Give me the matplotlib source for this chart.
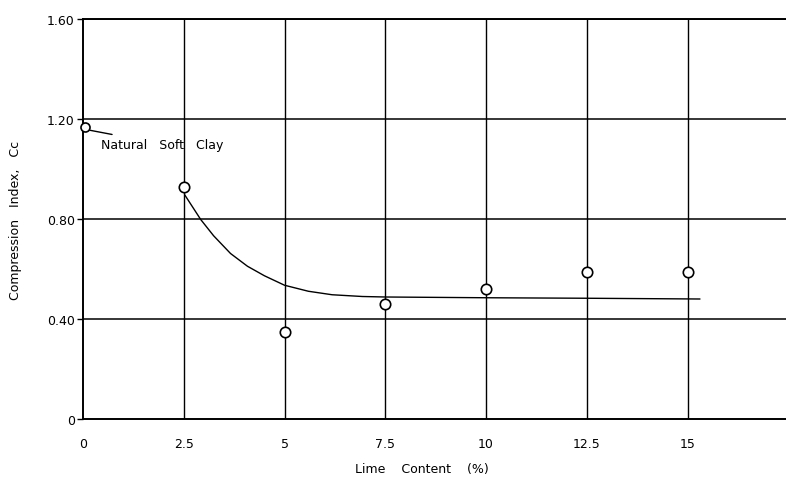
import matplotlib
matplotlib.use("Agg")
import matplotlib.pyplot as plt

# data
lime_content = [2.5, 5, 7.5, 10, 12.5, 15]
compression_index = [0.93, 0.35, 0.46, 0.52, 0.59, 0.59]
natural_x = [0.05]
natural_y = [1.17]
curve_x = [2.53, 2.92, 3.24, 3.66, 4.08, 4.50, 5.0, 5.59, 6.18, 6.93, 7.5, 10.0, 12.5, 15.3]
curve_y = [0.895, 0.798, 0.733, 0.662, 0.611, 0.573, 0.535, 0.511, 0.497, 0.49, 0.488, 0.485, 0.483, 0.48]
x_ticks = [0, 2.5, 5, 7.5, 10, 12.5, 15]
x_ticklabels = ["0", "2.5", "5", "7.5", "10", "12.5", "15"]
y_ticks = [0, 0.4, 0.8, 1.2, 1.6]
y_ticklabels = ["0", "0.40", "0.80", "1.20", "1.60"]

plt.rcParams["font.family"] = ["DejaVu Sans"]
fig = plt.figure(figsize=(7.86, 4.85), dpi=100)
ax = fig.add_axes([83/786, 1-420/485, 1-83/786, 400/485])
ax.set_xlim(0, 17.44)
ax.set_ylim(0, 1.6)

for xv in x_ticks[1:]:
    ax.axvline(xv, color="black", lw=1.0, zorder=1)
for yv in y_ticks[1:]:
    ax.axhline(yv, color="black", lw=1.1, zorder=1)

ax.plot(curve_x, curve_y, color="black", lw=1.0, zorder=2)
ax.plot(lime_content, compression_index, linestyle="none", marker="o", ms=7.5,
        mfc="white", mec="black", mew=1.2, zorder=3)
ax.plot(natural_x, natural_y, linestyle="none", marker="o", ms=6.5,
        mfc="white", mec="black", mew=1.2, zorder=3, clip_on=False)

ax.annotate("Natural   Soft   Clay", xy=(0.17, 1.155), xytext=(0.45, 1.10),
            fontsize=9, va="center", ha="left",
            arrowprops=dict(arrowstyle="-", color="black", lw=1.0,
                            shrinkA=1, shrinkB=0))

ax.spines["right"].set_visible(False)
for s in ["left", "bottom", "top"]:
    ax.spines[s].set_linewidth(1.4)
    ax.spines[s].set_color("black")

ax.set_xticks(x_ticks)
ax.set_xticklabels(x_ticklabels, fontsize=9)
ax.set_yticks(y_ticks)
ax.set_yticklabels(y_ticklabels, fontsize=9)
ax.tick_params(axis="x", length=0, pad=13)
ax.tick_params(axis="y", length=4, width=1, pad=2)

fig.text(16/786, 1-220/485, "Compression   Index,   Cc", rotation=90,
         ha="center", va="center", fontsize=9)
fig.text(422/786, 1-470/485, "Lime    Content    (%)", ha="center", va="center",
         fontsize=9)

fig.savefig("out.png", dpi=100)
